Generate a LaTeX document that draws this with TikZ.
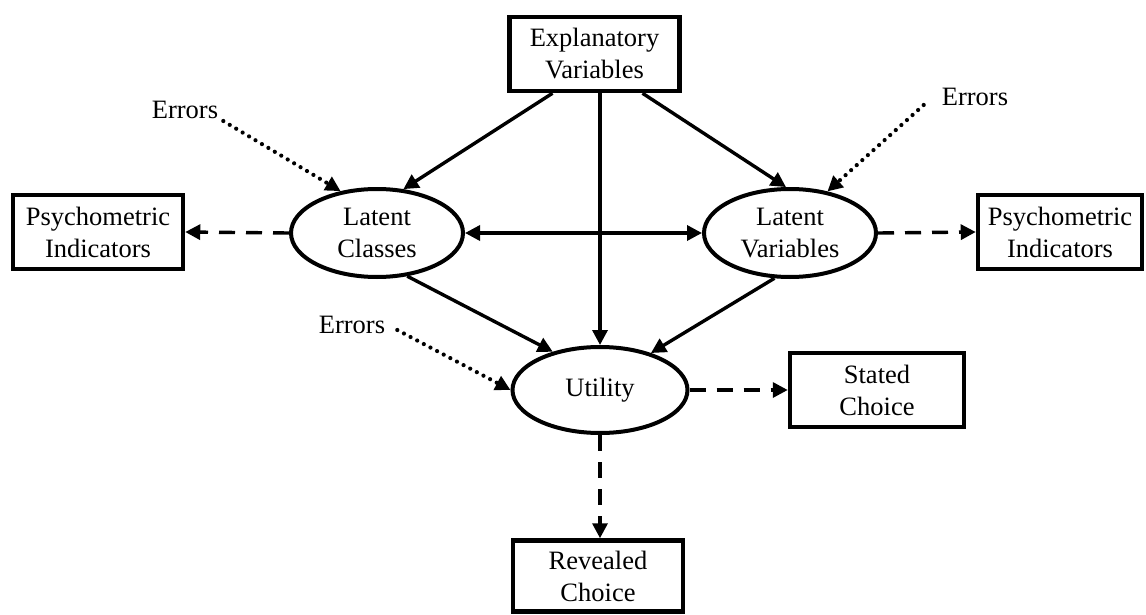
\documentclass[tikz,border=0pt]{standalone}
\usepackage{fontspec}
\setmainfont{Liberation Serif}
\usetikzlibrary{arrows.meta,shapes.geometric,calc}
\begin{document}
\begin{tikzpicture}[x=1pt,y=-1pt,
  every node/.style={font=\fontsize{26.5}{32}\selectfont, align=center, inner sep=0pt},
  box/.style={draw, line width=4.5pt, minimum width=170pt, minimum height=74pt},
  oval/.style={draw, ellipse, line width=4pt, minimum width=172pt, minimum height=88pt},
  tip/.tip={Triangle[length=15pt,width=15pt]},
  arr/.style={line width=3.4pt, -tip},
  dsh/.style={arr, dash pattern=on 16pt off 11pt},
  dotl/.style={arr, line width=4.2pt, line cap=round, dash pattern=on 0pt off 7.5pt}
]
\path[use as bounding box] (0,0) rectangle (1146,615);
% nodes
\node[box] (EV) at (594.5,54) {Explanatory\\Variables};
\node[box] (PIL) at (98,232) {Psychometric\\Indicators};
\node[box, minimum width=164pt] (PIR) at (1060,232) {Psychometric\\Indicators};
\node[oval] (LC) at (377,233) {Latent\\Classes};
\node[oval] (LV) at (790,233) {Latent\\Variables};
\node[oval, minimum width=175pt, minimum height=86pt] (U) at (600,390) {Utility};
\node[box, minimum width=174pt] (SC) at (877,390) {Stated\\Choice};
\node[box, minimum height=71pt] (RC) at (598,576) {Revealed\\Choice};
\node (E1) at (185,110) {Errors};
\node (E2) at (975,97) {Errors};
\node (E3) at (352,325) {Errors};
% solid connectors
\draw[arr] ($(EV.south)+(-42,0)$) -- (LC.59);
\draw[arr] ($(EV.south)+(48,0)$) -- (LV.95);
\draw[arr] (EV.south -| U.north) -- (U.north);
\draw[arr] (LC.-55) -- (U.141);
\draw[arr] (LV.-109) -- (U.36);
\draw[arr, tip-tip] (LC.east) -- (LV.west);
% dashed connectors
\draw[dsh] (LC.west) -- (PIL.east);
\draw[dsh] (LV.east) -- (PIR.west);
\draw[dsh] (U.east) -- (SC.west);
\draw[dsh] (U.south) -- (U.south |- RC.north);
% dotted error connectors
\draw[dotl] ($(E1.south east)+(5,2)$) -- (LC.131);
\draw[dotl] ($(E2.west)+(-18,8)$) -- (LV.48);
\draw[dotl] ($(E3.east)+(12,5)$) -- (U.west);
\end{tikzpicture}
\end{document}
